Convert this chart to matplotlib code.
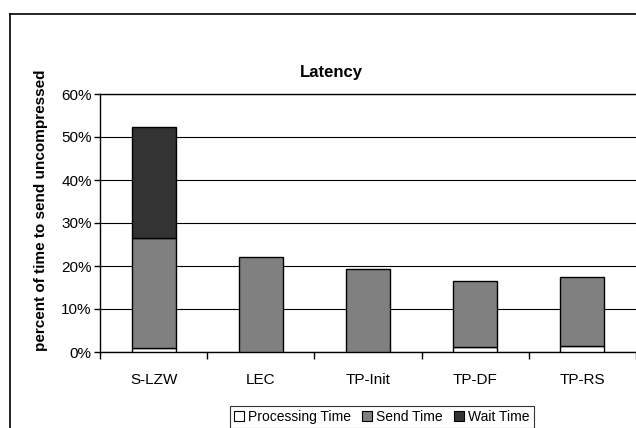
import matplotlib.pyplot as plt
import numpy as np
from matplotlib.patches import Patch
from matplotlib.lines import Line2D
from matplotlib.ticker import PercentFormatter

plt.rcParams['font.family'] = ['Liberation Sans', 'DejaVu Sans']

categories = ['S-LZW', 'LEC', 'TP-Init', 'TP-DF', 'TP-RS']
processing = [0.9, 0.0, 0.0, 1.2, 1.4]
send = [25.6, 22.1, 19.2, 15.3, 16.0]
wait = [25.8, 0.0, 0.0, 0.0, 0.0]
series_names = ['Processing Time', 'Send Time', 'Wait Time']
colors = ['white', '#808080', '#333333']

fig = plt.figure(figsize=(6.36, 4.28), dpi=100)
ax = fig.add_axes([100 / 636, 76 / 428, 536 / 636, 258 / 428])

x = np.arange(len(categories))
width = 0.41
bottom = np.zeros(len(categories))
for vals, c in zip([processing, send, wait], colors):
    vals = np.array(vals)
    mask = vals > 0
    ax.bar(x[mask], vals[mask], width, bottom=bottom[mask], color=c,
           edgecolor='black', linewidth=1.0, zorder=3)
    bottom += vals

ax.set_xlim(-0.5, len(categories) - 0.5)
ax.set_ylim(0, 60)
ax.set_yticks(np.arange(0, 61, 10))
ax.yaxis.set_major_formatter(PercentFormatter(decimals=0))
ax.yaxis.grid(True, color='black', linewidth=0.8, zorder=0)
ax.set_axisbelow(True)

ax.set_xticks(x)
ax.set_xticklabels(categories, fontsize=11)
ax.tick_params(axis='x', which='major', length=0, pad=15)
ax.set_xticks(np.arange(-0.5, len(categories) - 0.4, 1), minor=True)
ax.tick_params(axis='x', which='minor', length=5, width=1, direction='out')
ax.tick_params(axis='y', length=4, width=1, direction='out', labelsize=11, pad=2)

ax.spines['right'].set_visible(False)
for s in ['left', 'bottom', 'top']:
    ax.spines[s].set_color('black')
    ax.spines[s].set_linewidth(1.0)

ax.set_ylabel('percent of time to send uncompressed', fontsize=11,
              fontweight='bold')
ax.yaxis.set_label_coords(-52 / 536, 0.55)
fig.text(331 / 636, 1 - 73 / 428, 'Latency', ha='center', va='center',
         fontsize=12, fontweight='bold')

# outer chart frame (cropped at right and bottom)
fig.add_artist(Line2D([10 / 636, 10 / 636], [0, 1 - 14 / 428],
                      transform=fig.transFigure, color='black', linewidth=1.2))
fig.add_artist(Line2D([10 / 636, 1], [1 - 14 / 428, 1 - 14 / 428],
                      transform=fig.transFigure, color='black', linewidth=1.2))

handles = [Patch(facecolor=c, edgecolor='black', linewidth=0.8) for c in colors]
leg = fig.legend(handles, series_names, loc='center', ncol=3,
                 bbox_to_anchor=(382 / 636, 1 - 417 / 428), fontsize=10,
                 frameon=True, fancybox=False, edgecolor='black',
                 handlelength=0.7, handleheight=0.7, handletextpad=0.3,
                 columnspacing=0.8, borderpad=0.3, borderaxespad=0)
leg.get_frame().set_linewidth(0.8)

fig.savefig('out.png', dpi=100)
